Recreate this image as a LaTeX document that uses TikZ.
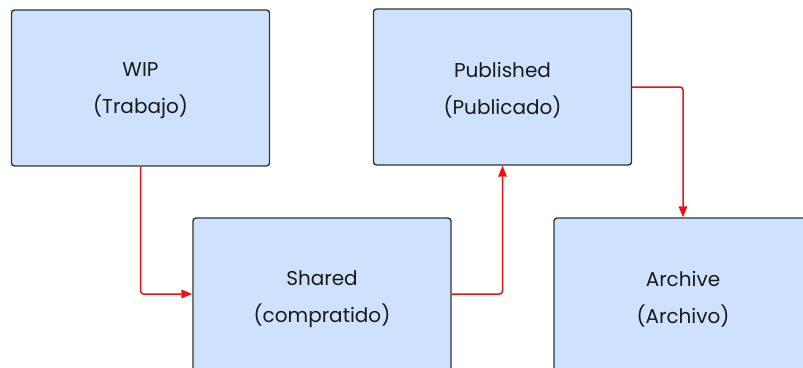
\documentclass[tikz,border=0pt]{standalone}
\usepackage{fontspec}
\setmainfont{Poppins}
\usetikzlibrary{arrows.meta}
\definecolor{boxfill}{HTML}{CFE2FD}
\definecolor{boxedge}{HTML}{333333}
\definecolor{flow}{HTML}{EE1111}
\begin{document}
\begin{tikzpicture}[x=1pt,y=-1pt,
  stage/.style={draw=boxedge,fill=boxfill,line width=1.4pt,rounded corners=3pt,
    minimum width=258pt,minimum height=156pt,inner sep=0pt},
  caption/.style={align=center,font=\fontsize{20}{37}\selectfont,text=black!90,
    inner sep=0pt,yshift=-3pt},
  flowline/.style={draw=flow,line width=1.5pt,rounded corners=3pt,
    -{Triangle[length=11pt,width=8.5pt]}}]
\useasboundingbox (0,0) rectangle (803,367);
\begin{scope}
\clip (0,0) rectangle (803,367);
\node[stage] (wip) at (140.5,88) {};
\node[stage] (pub) at (502.5,87) {};
\node[stage] (shr) at (322,296) {};
\node[stage] (arc) at (683,296) {};
\node[caption] (wipt) at (wip.center) {WIP\\(Trabajo)};
\node[caption] (pubt) at (pub.center) {Published\\(Publicado)};
\node[caption] (shrt) at (shr.center) {Shared\\(compratido)};
\node[caption] (arct) at (arc.center) {Archive\\(Archivo)};
\draw[flowline] (wip.south) |- ([yshift=2pt]shr.west);
\draw[flowline] ([yshift=2pt]shr.east) -| (pub.south);
\draw[flowline] (pub.east) -| (arc.north);
\end{scope}
\end{tikzpicture}
\end{document}
